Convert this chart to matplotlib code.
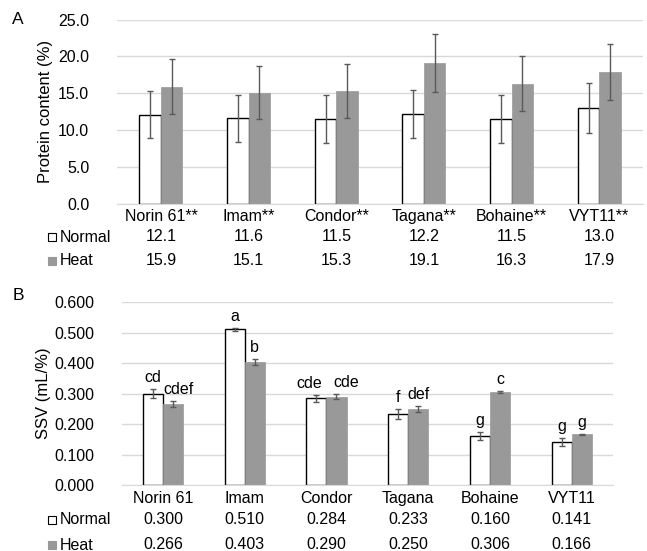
import numpy as np
import matplotlib.pyplot as plt
import matplotlib.transforms as mtransforms

plt.rcParams['font.family'] = ['Liberation Sans', 'DejaVu Sans']

# data
cultivars = ["Norin 61", "Imam", "Condor", "Tagana", "Bohaine", "VYT11"]
protein_normal = [12.1, 11.6, 11.5, 12.2, 11.5, 13.0]
protein_heat = [15.9, 15.1, 15.3, 19.1, 16.3, 17.9]
protein_normal_err = [3.2, 3.2, 3.2, 3.25, 3.2, 3.4]
protein_heat_err = [3.7, 3.6, 3.6, 3.9, 3.7, 3.8]

ssv_normal = [0.300, 0.510, 0.284, 0.233, 0.160, 0.141]
ssv_heat = [0.266, 0.403, 0.290, 0.250, 0.306, 0.166]
ssv_normal_err = [0.015, 0.004, 0.012, 0.015, 0.013, 0.012]
ssv_heat_err = [0.010, 0.010, 0.008, 0.010, 0.003, 0.002]
ssv_normal_letters = ["cd", "a", "cde", "f", "g", "g"]
ssv_heat_letters = ["cdef", "b", "cde", "def", "c", "g"]

# horizontal nudges (points) for the letter labels
nudge_normal = [0, 0, -5, 0, 0, 0]
nudge_heat = [4, 0, 7, 0, 0, 0]

GRAY = "#999999"
ERR = "#595959"
GRID = "#d9d9d9"
FS = 11.5

fig = plt.figure(figsize=(6.47, 5.51), dpi=100)
ax1 = fig.add_axes([0.181, 0.630, 0.813, 0.3346])
ax2 = fig.add_axes([0.1886, 0.1198, 0.7584, 0.332])

x = np.arange(len(cultivars))
w = 0.245


def style_axes(ax):
    for s in ["top", "right", "left"]:
        ax.spines[s].set_visible(False)
    ax.spines["bottom"].set_color(GRID)
    ax.yaxis.grid(True, color=GRID, linewidth=1)
    ax.set_axisbelow(True)
    ax.tick_params(axis="both", length=0, labelsize=FS)
    ax.tick_params(axis="y", pad=20)
    ax.tick_params(axis="x", pad=4)
    ax.set_xlim(-0.5, len(cultivars) - 0.5)


def table_rows(ax, normal, heat, fmt, y_n, y_h):
    tr = mtransforms.blended_transform_factory(ax.transData, ax.transAxes)
    for i in range(len(cultivars)):
        ax.text(x[i], y_n, fmt.format(normal[i]), transform=tr, ha="center", va="center", fontsize=FS)
        ax.text(x[i], y_h, fmt.format(heat[i]), transform=tr, ha="center", va="center", fontsize=FS)


# ---- panel A
ax1.bar(x - w / 2, protein_normal, w, color="white", edgecolor="black", linewidth=1,
        yerr=protein_normal_err, ecolor=ERR, capsize=2.5, error_kw={"elinewidth": 1})
ax1.bar(x + w / 2, protein_heat, w, color=GRAY, edgecolor=GRAY, linewidth=0.5,
        yerr=protein_heat_err, ecolor=ERR, capsize=2.5, error_kw={"elinewidth": 1})
style_axes(ax1)
ax1.set_ylim(0, 25)
ax1.set_yticks(np.arange(0, 25.1, 5))
ax1.set_yticklabels(["{:.1f}".format(v) for v in np.arange(0, 25.1, 5)])
ax1.set_xticks(x)
ax1.set_xticklabels([c + "**" for c in cultivars])
ax1.set_ylabel("Protein content (%)", fontsize=FS + 0.5, labelpad=4)
table_rows(ax1, protein_normal, protein_heat, "{:.1f}", -0.179, -0.309)

# ---- panel B
ax2.bar(x - w / 2, ssv_normal, w, color="white", edgecolor="black", linewidth=1,
        yerr=ssv_normal_err, ecolor=ERR, capsize=2.5, error_kw={"elinewidth": 1})
ax2.bar(x + w / 2, ssv_heat, w, color=GRAY, edgecolor=GRAY, linewidth=0.5,
        yerr=ssv_heat_err, ecolor=ERR, capsize=2.5, error_kw={"elinewidth": 1})
style_axes(ax2)
ax2.set_ylim(0, 0.6)
ax2.set_yticks(np.arange(0, 0.61, 0.1))
ax2.set_yticklabels(["{:.3f}".format(v) for v in np.arange(0, 0.61, 0.1)])
ax2.set_xticks(x)
ax2.set_xticklabels(cultivars)
ax2.set_ylabel("SSV (mL/%)", fontsize=FS + 0.5, labelpad=2)
table_rows(ax2, ssv_normal, ssv_heat, "{:.3f}", -0.191, -0.328)

for i in range(len(cultivars)):
    ax2.annotate(ssv_normal_letters[i], (x[i] - w / 2, ssv_normal[i] + ssv_normal_err[i]),
                 xytext=(nudge_normal[i], 3), textcoords="offset points", ha="center",
                 va="bottom", fontsize=FS)
    ax2.annotate(ssv_heat_letters[i], (x[i] + w / 2, ssv_heat[i] + ssv_heat_err[i]),
                 xytext=(nudge_heat[i], 3), textcoords="offset points", ha="center",
                 va="bottom", fontsize=FS)

# legend labels of the data tables
for yy_n, yy_h in [(237, 261), (520, 545)]:
    for yy, col in [(yy_n, "white"), (yy_h, GRAY)]:
        fig.patches.append(plt.Rectangle((48 / 647, 1 - (yy + 4) / 551), 8 / 647, 8 / 551,
                                         transform=fig.transFigure, facecolor=col,
                                         edgecolor="black" if col == "white" else GRAY,
                                         linewidth=0.8))
    fig.text(60 / 647, 1 - yy_n / 551, "Normal", ha="left", va="center", fontsize=FS)
    fig.text(60 / 647, 1 - yy_h / 551, "Heat", ha="left", va="center", fontsize=FS)

fig.text(12 / 647, 1 - 20 / 551, "A", ha="left", va="center", fontsize=FS + 1)
fig.text(13 / 647, 1 - 296 / 551, "B", ha="left", va="center", fontsize=FS + 1)

fig.savefig("out.png", dpi=100)
